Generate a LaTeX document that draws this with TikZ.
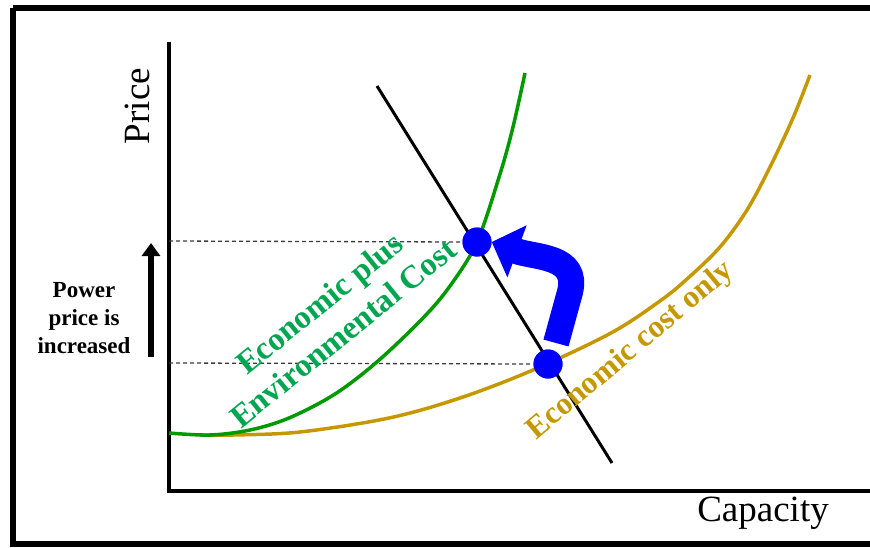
\documentclass[tikz,border=0pt]{standalone}
\usepackage{fontspec}
\setmainfont{Liberation Serif}
\usetikzlibrary{arrows.meta}
\definecolor{curvegreen}{RGB}{0,153,0}
\definecolor{textgreen}{RGB}{0,166,80}
\definecolor{gold}{RGB}{198,152,0}
\definecolor{dashgray}{RGB}{60,60,60}
\tikzset{
  axisline/.style={line width=4pt},
  guide/.style={dashgray, line width=1.3pt, dash pattern=on 4pt off 3pt},
  eqdot/.style={circle, fill=blue, inner sep=0pt, minimum size=29pt},
  costcurve/.style={line width=3.5pt},
  lbl/.style={font=\bfseries\fontsize{32.5}{38}\selectfont, align=center, inner sep=0pt},
}
\begin{document}
\begin{tikzpicture}[x=1pt, y=-1pt]
\useasboundingbox (0,0) rectangle (870,547);
% frame
\draw[line width=6pt] (13,8) -- (880,8);
\draw[line width=6pt] (13,8) -- (13,544) -- (880,544);
% axes
\coordinate (ytop) at (169,42);
\coordinate (orig) at (169,491);
\coordinate (xend) at (880,491);
\draw[axisline] (ytop) -- (orig) -- (xend);
\node[font=\fontsize{37}{44}\selectfont, rotate=90, inner sep=0pt] (price) at (137,106) {Price};
\node[font=\fontsize{37}{44}\selectfont, inner sep=0pt] (capacity) at (763,513) {Capacity};
% dots
\node[eqdot] (dotA) at (477,242) {};
\node[eqdot] (dotB) at (548,364) {};
% guide lines
\coordinate (ga) at (169,241);
\coordinate (gb) at (169,363);
\draw[guide] (ga) -- (dotA.west);
\draw[guide] (gb) -- (dotB.west);
% cost curves
\draw[gold, costcurve] plot[smooth, tension=0.55] coordinates {(200,435) (233,435) (300,432) (389,418) (460,398) (533,370) (611,333) (660,301) (687,279) (720,247) (747,210) (770,167) (793,118) (810,75)};
\draw[curvegreen, costcurve] plot[smooth, tension=0.55] coordinates {(169,433) (210,435) (250,430) (289,418) (335,394) (378,361) (423,318) (450,286) (477,242) (500,174) (513,127) (525,73)};
% demand line
\coordinate (dtop) at (377,86);
\coordinate (dbot) at (612,463);
\draw[line width=3pt] (dtop) -- (dbot);
\node[eqdot] at (dotA) {};
\node[eqdot] at (dotB) {};
% labels
\node[lbl, textgreen, rotate=39] (greenlbl) at (331,318) {Economic plus\\Environmental Cost};
\node[lbl, gold, rotate=40, font=\bfseries\fontsize{31.5}{36}\selectfont] (goldlbl) at (631,351) {Economic cost only};
% left annotation
\node[font=\bfseries\fontsize{23}{28}\selectfont, align=center, inner sep=0pt] (powertxt) at (84,318) {Power\\price is\\increased};
\coordinate (upbot) at (151,357);
\coordinate (uptop) at (151,243);
\draw[line width=6pt, -{Triangle[length=13pt,width=18pt]}] (upbot) -- (uptop);
% blue curved arrow
\coordinate (barrbot) at (556,343);
\coordinate (barrmid) at (570,292);
\draw[blue, line width=26pt, -{Triangle[length=27pt,width=54pt]}] (barrbot) -- (barrmid) .. controls (579,255) and (535,258) .. (dotA.east);
\end{tikzpicture}
\end{document}
